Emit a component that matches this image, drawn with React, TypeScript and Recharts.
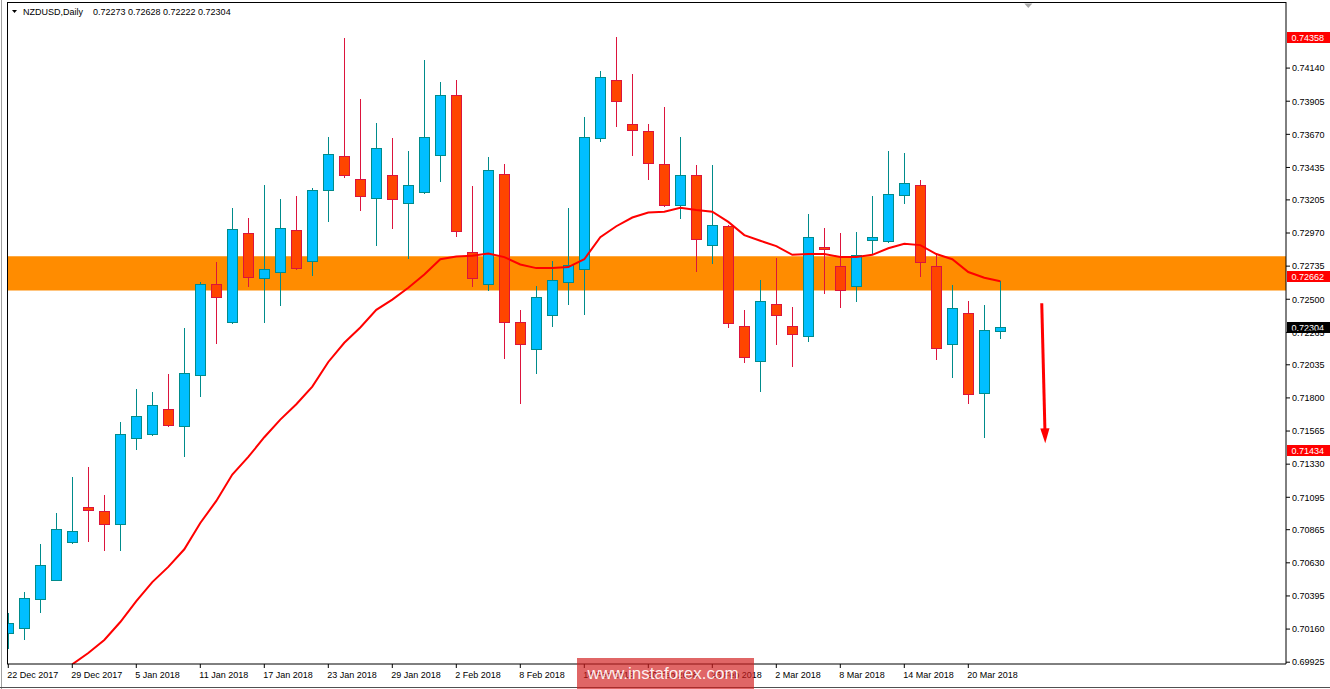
import React from 'react';
import {
  ComposedChart,
  Bar,
  Line,
  XAxis,
  YAxis,
  ReferenceLine,
  ReferenceArea,
  ReferenceDot,
} from 'recharts';

// ---------- data ----------
const dates = [
  '2017-12-22', '2017-12-26', '2017-12-27', '2017-12-28', '2017-12-29',
  '2018-01-02', '2018-01-03', '2018-01-04', '2018-01-05',
  '2018-01-08', '2018-01-09', '2018-01-10', '2018-01-11', '2018-01-12',
  '2018-01-15', '2018-01-16', '2018-01-17', '2018-01-18', '2018-01-19',
  '2018-01-22', '2018-01-23', '2018-01-24', '2018-01-25', '2018-01-26',
  '2018-01-29', '2018-01-30', '2018-01-31', '2018-02-01', '2018-02-02',
  '2018-02-05', '2018-02-06', '2018-02-07', '2018-02-08', '2018-02-09',
  '2018-02-12', '2018-02-13', '2018-02-14', '2018-02-15', '2018-02-16',
  '2018-02-19', '2018-02-20', '2018-02-21', '2018-02-22', '2018-02-23',
  '2018-02-26', '2018-02-27', '2018-02-28', '2018-03-01', '2018-03-02',
  '2018-03-05', '2018-03-06', '2018-03-07', '2018-03-08', '2018-03-09',
  '2018-03-12', '2018-03-13', '2018-03-14', '2018-03-15', '2018-03-16',
  '2018-03-19', '2018-03-20', '2018-03-21', '2018-03-22',
];

const opens = [
  0.70131, 0.70171, 0.70373, 0.70511, 0.70776, 0.71028, 0.70997, 0.70904, 0.71518, 0.71546,
  0.71724, 0.71599, 0.71961, 0.72606, 0.72341, 0.72968, 0.72650, 0.72696, 0.72989, 0.72768,
  0.73273, 0.73519, 0.73351, 0.73221, 0.73380, 0.73186, 0.73261, 0.73523, 0.73946, 0.72834,
  0.72606, 0.73392, 0.72341, 0.72145, 0.72391, 0.72625, 0.72716, 0.73641, 0.74053, 0.73741,
  0.73695, 0.73463, 0.73170, 0.73380, 0.72886, 0.73018, 0.72307, 0.72063, 0.72469, 0.72313,
  0.72242, 0.72868, 0.72734, 0.72591, 0.72921, 0.72912, 0.73239, 0.73314, 0.72734, 0.72179,
  0.72400, 0.71833, 0.72273,
];

const highs = [
  0.70274, 0.70424, 0.70764, 0.70985, 0.71240, 0.71309, 0.71110, 0.71630, 0.71864, 0.71842,
  0.71970, 0.72298, 0.72622, 0.72765, 0.73149, 0.73077, 0.73311, 0.73211, 0.73233, 0.73289,
  0.73651, 0.74352, 0.73922, 0.73751, 0.73644, 0.73550, 0.74196, 0.74040, 0.74056, 0.73304,
  0.73510, 0.73460, 0.72422, 0.72591, 0.72768, 0.73149, 0.73794, 0.74118, 0.74358, 0.74100,
  0.73744, 0.73863, 0.73651, 0.73451, 0.73451, 0.73027, 0.72422, 0.72637, 0.72790, 0.72444,
  0.73105, 0.73005, 0.72971, 0.72977, 0.73233, 0.73550, 0.73538, 0.73345, 0.72815, 0.72600,
  0.72488, 0.72459, 0.72628,
];

const lows = [
  0.70024, 0.70093, 0.70283, 0.70505, 0.70770, 0.70782, 0.70723, 0.70720, 0.71441, 0.71540,
  0.71599, 0.71390, 0.71817, 0.72191, 0.72332, 0.72591, 0.72341, 0.72457, 0.72716, 0.72669,
  0.73055, 0.73364, 0.73136, 0.72886, 0.73008, 0.72790, 0.73255, 0.73336, 0.72946, 0.72593,
  0.72566, 0.72083, 0.71761, 0.71976, 0.72313, 0.72469, 0.72398, 0.73626, 0.73729, 0.73523,
  0.73355, 0.73165, 0.73074, 0.72700, 0.72756, 0.72304, 0.72058, 0.71852, 0.72185, 0.72023,
  0.72207, 0.72541, 0.72447, 0.72488, 0.72828, 0.72905, 0.73180, 0.72665, 0.72073, 0.71951,
  0.71761, 0.71524, 0.72222,
];

const closes = [
  0.70205, 0.70383, 0.70617, 0.70873, 0.70854, 0.71007, 0.70904, 0.71543, 0.71671, 0.71748,
  0.71605, 0.71980, 0.72606, 0.72513, 0.72996, 0.72656, 0.72712, 0.73002, 0.72721, 0.73273,
  0.73529, 0.73385, 0.73233, 0.73570, 0.73214, 0.73314, 0.73648, 0.73946, 0.72984, 0.72650,
  0.73414, 0.72341, 0.72179, 0.72519, 0.72634, 0.72740, 0.73648, 0.74075, 0.73903, 0.73704,
  0.73470, 0.73170, 0.73380, 0.72930, 0.73030, 0.72335, 0.72088, 0.72491, 0.72385, 0.72251,
  0.72940, 0.72859, 0.72569, 0.72812, 0.72940, 0.73245, 0.73324, 0.72762, 0.72151, 0.72435,
  0.71827, 0.72285, 0.72304,
];

const movingAverage: (number | null)[] = [
  null, null, null, null, 0.69910, 0.69990, 0.70083, 0.70210, 0.70359, 0.70493,
  0.70601, 0.70726, 0.70913, 0.71069, 0.71256, 0.71381, 0.71521, 0.71646, 0.71755, 0.71880,
  0.72055, 0.72191, 0.72300, 0.72425, 0.72497, 0.72581, 0.72675, 0.72784, 0.72803, 0.72809,
  0.72825, 0.72799, 0.72747, 0.72721, 0.72721, 0.72728, 0.72784, 0.72940, 0.73018, 0.73080,
  0.73115, 0.73121, 0.73149, 0.73133, 0.73121, 0.73049, 0.72955, 0.72915, 0.72877, 0.72815,
  0.72821, 0.72821, 0.72799, 0.72799, 0.72815, 0.72862, 0.72893, 0.72884, 0.72821, 0.72784,
  0.72693, 0.72653, 0.72628,
];

const dateTickLabels = [
  '22 Dec 2017', '29 Dec 2017', '5 Jan 2018', '11 Jan 2018', '17 Jan 2018', '23 Jan 2018',
  '29 Jan 2018', '2 Feb 2018', '8 Feb 2018', '14 Feb 2018', '20 Feb 2018', '26 Feb 2018',
  '2 Mar 2018', '8 Mar 2018', '14 Mar 2018', '20 Mar 2018',
];

const priceTicks = [
  0.74140, 0.73905, 0.73670, 0.73435, 0.73205, 0.72970, 0.72735, 0.72500, 0.72265, 0.72035,
  0.71800, 0.71565, 0.71330, 0.71095, 0.70865, 0.70630, 0.70395, 0.70160, 0.69925,
];

const levelLines = [0.74358, 0.72662, 0.71434];
const bidPrice = 0.72304;
const zone = [0.72562, 0.72805];
const arrowFrom = { x: 64.59, y: 0.72472 };
const arrowTo = { x: 64.81, y: 0.71478 };
const shiftMarkerX = 63.75;

const title = 'NZDUSD,Daily';
const titleValues = '0.72273 0.72628 0.72222 0.72304';

// ---------- layout / style ----------
const W = 1330;
const H = 689;
const Y_DOMAIN: [number, number] = [0.699122, 0.746089];
const X_DOMAIN: [number, number] = [-0.081, 79.856];
const FONT = '"Liberation Sans", Arial, sans-serif';

const BULL_FILL = '#00BFFF';
const BULL_LINE = '#008B8B';
const BEAR_FILL = '#FF4500';
const BEAR_LINE = '#DC143C';

const data = dates.map((d, i) => ({
  i,
  date: d,
  o: opens[i],
  h: highs[i],
  l: lows[i],
  c: closes[i],
  range: [lows[i], highs[i]],
  ma: movingAverage[i],
}));

const xTicks = dateTickLabels.map((_, k) => k * 4);

function Candle(props: any) {
  const { x, y, width, height, payload } = props;
  if (!payload || x == null || y == null) return null;
  const { o, h, l, c } = payload;
  const span = h - l;
  const yHigh = height >= 0 ? y : y + height;
  const hpx = Math.abs(height);
  const py = (p: number) => (span > 0 ? yHigh + ((h - p) / span) * hpx : yHigh);
  const cx = Math.floor(x + width / 2 + 0.001);
  const bull = c >= o;
  const stroke = bull ? BULL_LINE : BEAR_LINE;
  const fill = bull ? BULL_FILL : BEAR_FILL;
  const top = Math.round(py(Math.max(o, c)));
  let bot = Math.round(py(Math.min(o, c)));
  if (bot - top < 1) bot = top + 1;
  return (
    <g>
      <line
        x1={cx + 0.5}
        x2={cx + 0.5}
        y1={Math.round(py(h))}
        y2={Math.round(py(l)) + 1}
        stroke={stroke}
        strokeWidth={1}
      />
      <rect
        x={cx - 4.5}
        y={top + 0.5}
        width={10}
        height={bot - top}
        fill={fill}
        stroke={stroke}
        strokeWidth={1}
      />
    </g>
  );
}

function DateTick(props: any) {
  const { x, y, payload } = props;
  const label = dateTickLabels[Math.round(payload.value / 4)];
  return (
    <text x={x - 1} y={y} dy={10} fontSize={9} fontFamily={FONT} fill="#000" textAnchor="start">
      {label}
    </text>
  );
}

function PriceTick(props: any) {
  const { x, y, payload } = props;
  return (
    <text x={x} y={y} dy={3.3} fontSize={9} fontFamily={FONT} fill="#000" textAnchor="start">
      {Number(payload.value).toFixed(5)}
    </text>
  );
}

const makeLevelShape = (lineColor: string, boxColor: string, value: number) => (props: any) => {
  const { x1, x2, y1 } = props;
  if (x1 == null || y1 == null) return <g />;
  const yy = Math.round(y1) + 0.5;
  const right = Math.max(x1, x2);
  return (
    <g>
      <line x1={x1} x2={right} y1={yy} y2={yy} stroke={lineColor} strokeWidth={1} />
      <rect x={right + 1} y={yy - 5.5} width={W - right - 1} height={11} fill={boxColor} />
      <text x={right + 5.5} y={yy + 3.3} fontSize={9} fontFamily={FONT} fill="#fff" textAnchor="start">
        {value.toFixed(5)}
      </text>
    </g>
  );
};

const arrowShape = (props: any) => {
  const { x1, y1, x2, y2 } = props;
  if (x1 == null) return <g />;
  const dx = x2 - x1;
  const dy = y2 - y1;
  const len = Math.sqrt(dx * dx + dy * dy) || 1;
  const ux = dx / len;
  const uy = dy / len;
  const headLen = 15;
  const headHalf = 4.6;
  const bx = x2 - ux * headLen;
  const by = y2 - uy * headLen;
  const pts = [
    `${x2},${y2}`,
    `${bx - uy * headHalf},${by + ux * headHalf}`,
    `${bx + uy * headHalf},${by - ux * headHalf}`,
  ].join(' ');
  return (
    <g>
      <line x1={x1} y1={y1} x2={bx + ux * 2} y2={by + uy * 2} stroke="#FF0000" strokeWidth={3} />
      <polygon points={pts} fill="#FF0000" />
    </g>
  );
};

const shiftMarker = (props: any) => {
  const { cx, cy } = props;
  if (cx == null) return <g />;
  return (
    <polygon
      points={`${cx - 4},${cy + 1.5} ${cx + 4},${cy + 1.5} ${cx},${cy + 6}`}
      fill="#A8A8A8"
    />
  );
};

export default function App() {
  return (
    <div
      style={{
        position: 'absolute',
        left: 0,
        top: 0,
        width: W,
        height: H,
        background: '#fff',
        overflow: 'hidden',
      }}
    >
      <ComposedChart
        width={W}
        height={H}
        data={data}
        margin={{ top: 2, right: 0, bottom: 0, left: 7 }}
      >
        <XAxis
          dataKey="i"
          type="number"
          domain={X_DOMAIN}
          allowDataOverflow
          ticks={xTicks}
          interval={0}
          tick={<DateTick />}
          tickSize={4}
          tickMargin={0}
          tickLine={{ stroke: '#000' }}
          axisLine={{ stroke: '#000' }}
          height={25}
        />
        <YAxis
          orientation="right"
          type="number"
          domain={Y_DOMAIN}
          allowDataOverflow
          ticks={priceTicks}
          interval={0}
          tick={<PriceTick />}
          tickSize={4}
          tickMargin={2}
          tickLine={{ stroke: '#000' }}
          axisLine={{ stroke: '#000' }}
          width={44}
        />
        <ReferenceArea
          y1={zone[0]}
          y2={zone[1]}
          fill="#FF8C00"
          fillOpacity={1}
          stroke="none"
          ifOverflow="visible"
        />
        <Bar dataKey="range" barSize={10} isAnimationActive={false} shape={(p: any) => <Candle {...p} />} />
        <Line
          dataKey="ma"
          type="linear"
          stroke="#FF0000"
          strokeWidth={2}
          dot={false}
          activeDot={false}
          connectNulls={false}
          isAnimationActive={false}
        />
        <ReferenceLine y={Y_DOMAIN[1]} stroke="#000" shapeRendering="crispEdges" />
        <ReferenceLine x={X_DOMAIN[0]} stroke="#000" shapeRendering="crispEdges" />
        <ReferenceLine
          y={bidPrice}
          zIndex={900}
          shape={makeLevelShape('#C0C0C0', '#000000', bidPrice)}
        />
        {levelLines.map((v) => (
          <ReferenceLine key={v} y={v} zIndex={900} shape={makeLevelShape('#FF0000', '#FF0000', v)} />
        ))}
        <ReferenceLine segment={[arrowFrom, arrowTo]} shape={arrowShape} ifOverflow="visible" />
        <ReferenceDot x={shiftMarkerX} y={Y_DOMAIN[1]} shape={shiftMarker} ifOverflow="visible" />
      </ComposedChart>
      <svg
        width={W}
        height={H}
        style={{ position: 'absolute', left: 0, top: 0, pointerEvents: 'none' }}
      >
        <line x1={1.5} x2={1.5} y1={0} y2={H} stroke="#A0A0A0" strokeWidth={1} />
        <line x1={0} x2={W} y1={687.5} y2={687.5} stroke="#505050" strokeWidth={1} />
        <polygon points="12,10 17,10 14.5,13" fill="#000" />
        <text x={23} y={15} fontSize={9} fontFamily={FONT} fill="#000">
          {title}
        </text>
        <text x={93} y={15} fontSize={9} fontFamily={FONT} fill="#000">
          {titleValues}
        </text>
        <rect x={577} y={658} width={177} height={31} fill="rgb(210,30,30)" fillOpacity={0.68} />
        <text
          x={663}
          y={679}
          fontSize={17}
          fontFamily={FONT}
          fill="#fff"
          fillOpacity={0.92}
          textAnchor="middle"
        >
          www.instaforex.com
        </text>
      </svg>
    </div>
  );
}
